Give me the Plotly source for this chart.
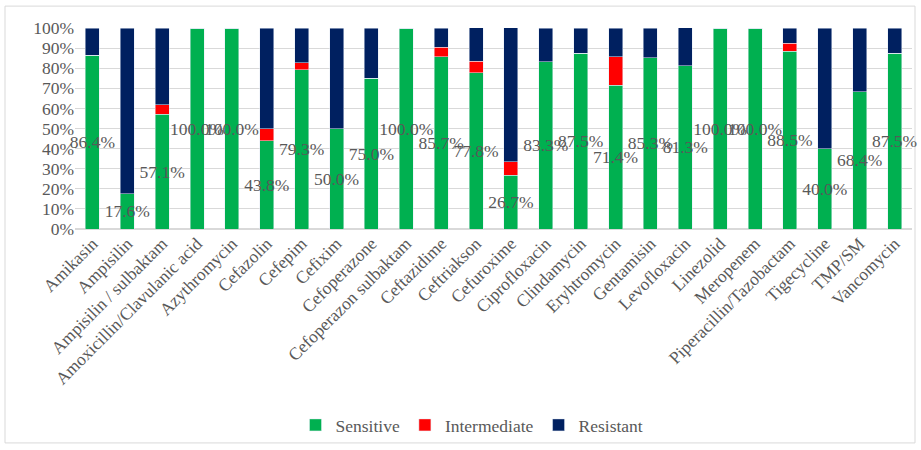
import plotly.graph_objects as go

categories = ["Amikasin", "Ampisilin", "Ampisilin / sulbaktam", "Amoxicillin/Clavulanic acid",
              "Azythromycin", "Cefazolin", "Cefepim", "Cefixim", "Cefoperazone",
              "Cefoperazon sulbaktam", "Ceftazidime", "Ceftriakson", "Cefuroxime",
              "Ciprofloxacin", "Clindamycin", "Eryhtromycin", "Gentamisin", "Levofloxacin",
              "Linezolid", "Meropenem", "Piperacillin/Tazobactam", "Tigecycline", "TMP/SM",
              "Vancomycin"]
sensitive = [86.4, 17.6, 57.1, 100.0, 100.0, 43.8, 79.3, 50.0, 75.0, 100.0, 85.7, 77.8, 26.7,
             83.3, 87.5, 71.4, 85.3, 81.3, 100.0, 100.0, 88.5, 40.0, 68.4, 87.5]
intermediate = [0, 0, 4.8, 0, 0, 6.2, 3.4, 0, 0, 0, 4.8, 5.6, 6.7,
                0, 0, 14.3, 0, 0, 0, 0, 3.8, 0, 0, 0]
resistant = [13.6, 82.4, 38.1, 0, 0, 50.0, 17.2, 50.0, 25.0, 0, 9.5, 16.7, 66.7,
             16.7, 12.5, 14.3, 14.7, 18.8, 0, 0, 7.7, 60.0, 31.6, 12.5]
ytick_vals = [0, 10, 20, 30, 40, 50, 60, 70, 80, 90, 100]
ytick_text = [f"{v}%" for v in ytick_vals]

FONT = "Liberation Serif"
GRAY = "#595959"
FS = 17.5

fig = go.Figure()
fig.add_trace(go.Bar(
    name="Sensitive", x=categories, y=sensitive, marker_color="#00B050",
    text=[f"{v:.1f}%" for v in sensitive], textposition="inside",
    insidetextanchor="middle", textangle=0, constraintext="none",
    textfont=dict(family=FONT, size=FS, color=GRAY),
    cliponaxis=False,
))
fig.add_trace(go.Bar(name="Intermediate", x=categories, y=intermediate, marker_color="#FF0000"))
fig.add_trace(go.Bar(name="Resistant", x=categories, y=resistant, marker_color="#002060"))

L, R, T, B = 75, 9, 28, 220
W, H = 921, 450
pw, ph = W - L - R, H - T - B

def px_x(p):
    return (p - L) / pw

def px_y(p):
    return (H - B - p) / ph

fig.update_layout(
    barmode="stack",
    bargap=0.6,
    width=W, height=H,
    margin=dict(l=L, r=R, t=T, b=B),
    paper_bgcolor="white", plot_bgcolor="white",
    font=dict(family=FONT, color=GRAY, size=FS),
    xaxis=dict(tickangle=-45, tickfont=dict(family=FONT, size=FS, color=GRAY),
               showgrid=False, showline=False, ticks="", automargin=False),
    yaxis=dict(range=[0, 100], tickvals=ytick_vals, ticktext=ytick_text,
               tickfont=dict(family=FONT, size=FS, color=GRAY),
               showgrid=True, gridcolor="#D9D9D9", gridwidth=1,
               zeroline=True, zerolinecolor="#D9D9D9", ticks="", automargin=False),
    legend=dict(orientation="h", x=px_x(472), xanchor="center", y=px_y(425), yanchor="middle",
                font=dict(family=FONT, size=FS, color=GRAY), traceorder="normal",
                itemwidth=30, bgcolor="rgba(0,0,0,0)"),
    shapes=[dict(type="rect", xref="paper", yref="paper",
                 x0=px_x(5), x1=px_x(915), y0=px_y(6), y1=px_y(445),
                 line=dict(color="#D9D9D9", width=1), layer="below")],
)

fig.write_html("out.html")
